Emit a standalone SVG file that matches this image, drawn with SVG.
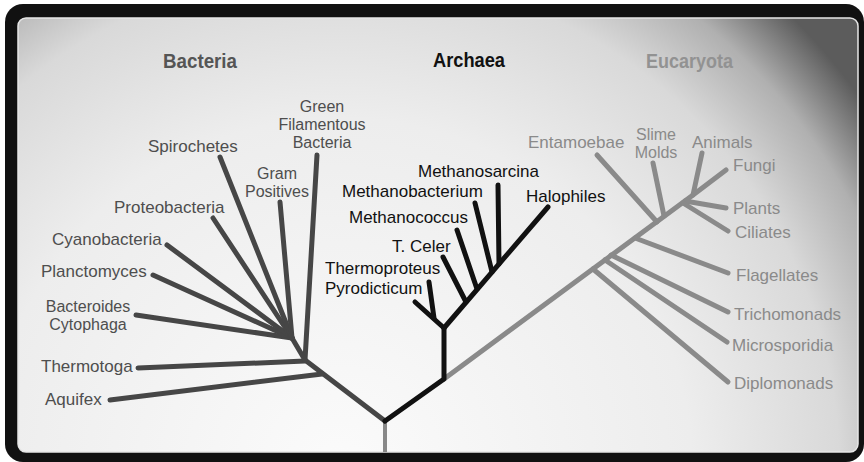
<svg xmlns="http://www.w3.org/2000/svg" width="864" height="462" viewBox="0 0 864 462">
<defs>
<radialGradient id="bg" gradientUnits="userSpaceOnUse" cx="340" cy="470" r="640">
<stop offset="0" stop-color="#fbfbfb"/>
<stop offset="0.55" stop-color="#ededed"/>
<stop offset="0.78" stop-color="#d9d9d9"/>
<stop offset="0.9" stop-color="#b0b0b0"/>
<stop offset="1" stop-color="#5c5c5c"/>
</radialGradient>
<style>
.lbl{font-family:"Liberation Sans",Arial,sans-serif;font-size:17px}
.ml{font-size:16px}
.bac{fill:#4e4e4e}
.arc{fill:#111}
.euk{fill:#8a8a8a}
.hd{font-family:"Liberation Sans Narrow","Liberation Sans",Arial,sans-serif;font-size:21px;font-weight:bold}
.ln{fill:none;stroke-width:5;stroke-linecap:round;stroke-linejoin:round}
.lb{stroke:#464646}
.la{stroke:#111}
.le{stroke:#8a8a8a}
</style>
</defs>
<rect x="0" y="0" width="864" height="462" fill="#fff"/>
<rect x="5" y="4" width="859" height="458" rx="18" fill="#111"/>
<rect x="18" y="18" width="840" height="434" rx="8" fill="url(#bg)" stroke="#e6e6e6" stroke-width="1.5"/>

<g id="connectors">
<path d="M385,421 L385,452" stroke="#888" stroke-width="4" fill="none"/>
<g class="ln lb">
<path d="M385,421 L305,360"/>
<path d="M110,400 L322,374"/>
<path d="M138,368 L305,361"/>
<path d="M317,155 L305,360"/>
<path d="M305,360 L292,338"/>
<path d="M136,315 L292,338"/>
<path d="M153,275 L292,338"/>
<path d="M167,245 L292,338"/>
<path d="M213,218 L292,338"/>
<path d="M220,157 L292,338"/>
<path d="M280,202 L292,338"/>
</g>
<g class="ln le">
<path d="M444,379 L693,195 L726,170"/>
<path d="M693,195 L702,153"/>
<path d="M597,155 L657,222"/>
<path d="M653,163 L664,216"/>
<path d="M685,201 L726,208"/>
<path d="M683,203 L728,231"/>
<path d="M635,238 L728,273"/>
<path d="M611,255 L728,312"/>
<path d="M605,260 L727,342"/>
<path d="M593,269 L728,382"/>
</g>
<g class="ln la">
<path d="M385,421 L444,379 L444,328"/>
<path d="M415,302 L444,328"/>
<path d="M429,282 L434,318"/>
<path d="M444,328 L548,207"/>
<path d="M443,257 L466,302"/>
<path d="M457,230 L477,289"/>
<path d="M475,203 L492,272"/>
<path d="M498,185 L499,264"/>
</g>
</g>

<g id="heading-bacteria"><text class="hd" x="163" y="68" fill="#555" textLength="74" lengthAdjust="spacingAndGlyphs">Bacteria</text></g>
<g id="heading-archaea"><text class="hd" x="433" y="67" fill="#111" textLength="72" lengthAdjust="spacingAndGlyphs">Archaea</text></g>
<g id="heading-eucaryota"><text class="hd" x="646" y="68" fill="#929292" textLength="87" lengthAdjust="spacingAndGlyphs">Eucaryota</text></g>

<g id="green-filamentous" class="lbl ml bac" text-anchor="middle"><text x="322" y="112">Green</text><text x="322" y="130">Filamentous</text><text x="322" y="148">Bacteria</text></g>
<g id="spirochetes" class="lbl bac"><text x="148" y="152">Spirochetes</text></g>
<g id="gram-positives" class="lbl ml bac" text-anchor="middle"><text x="277" y="179">Gram</text><text x="277" y="197">Positives</text></g>
<g id="proteobacteria" class="lbl bac"><text x="114" y="213">Proteobacteria</text></g>
<g id="cyanobacteria" class="lbl bac"><text x="52" y="245">Cyanobacteria</text></g>
<g id="planctomyces" class="lbl bac"><text x="41" y="277">Planctomyces</text></g>
<g id="bacteroides" class="lbl ml bac" text-anchor="middle"><text x="88" y="312">Bacteroides</text><text x="88" y="330">Cytophaga</text></g>
<g id="thermotoga" class="lbl bac"><text x="41" y="372">Thermotoga</text></g>
<g id="aquifex" class="lbl bac"><text x="45" y="405">Aquifex</text></g>

<g id="methanosarcina" class="lbl arc"><text x="418" y="177">Methanosarcina</text></g>
<g id="methanobacterium" class="lbl arc"><text x="342" y="197">Methanobacterium</text></g>
<g id="halophiles" class="lbl arc"><text x="526" y="202">Halophiles</text></g>
<g id="methanococcus" class="lbl arc"><text x="349" y="223">Methanococcus</text></g>
<g id="t-celer" class="lbl arc"><text x="392" y="252">T. Celer</text></g>
<g id="thermoproteus" class="lbl arc"><text x="325" y="274">Thermoproteus</text></g>
<g id="pyrodicticum" class="lbl arc"><text x="325" y="294">Pyrodicticum</text></g>

<g id="entamoebae" class="lbl euk"><text x="528" y="148">Entamoebae</text></g>
<g id="slime-molds" class="lbl ml euk" text-anchor="middle"><text x="656" y="140">Slime</text><text x="656" y="158">Molds</text></g>
<g id="animals" class="lbl euk"><text x="692" y="148">Animals</text></g>
<g id="fungi" class="lbl euk"><text x="733" y="171">Fungi</text></g>
<g id="plants" class="lbl euk"><text x="733" y="214">Plants</text></g>
<g id="ciliates" class="lbl euk"><text x="735" y="238">Ciliates</text></g>
<g id="flagellates" class="lbl euk"><text x="736" y="281">Flagellates</text></g>
<g id="trichomonads" class="lbl euk"><text x="734" y="320">Trichomonads</text></g>
<g id="microsporidia" class="lbl euk"><text x="732" y="351">Microsporidia</text></g>
<g id="diplomonads" class="lbl euk"><text x="734" y="389">Diplomonads</text></g>
</svg>
